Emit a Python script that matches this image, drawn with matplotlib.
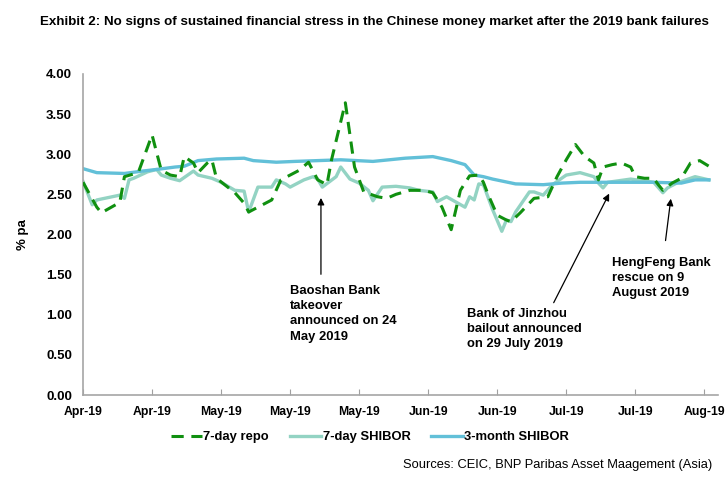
import matplotlib
matplotlib.use("Agg")
import matplotlib.pyplot as plt
import numpy as np
import pandas as pd

plt.rcParams['font.family'] = ['Liberation Sans Narrow', 'Liberation Sans', 'DejaVu Sans']

start = pd.Timestamp('2019-04-01')

# day offsets from 1 Apr 2019 and values (% pa)
repo_days = [0, 3, 4, 8, 9, 12, 15, 17, 19, 21, 22, 24, 25, 27, 28, 29, 33, 35, 36, 38, 41, 43,
             47, 49, 51, 53, 54, 57, 59, 61, 64, 66, 68, 71, 74, 76, 78, 80, 82, 84, 86, 87,
             88, 90, 92, 93, 95, 98, 101, 103, 105, 107, 109, 111, 112, 113, 115, 117, 119,
             120, 122, 124, 125, 126, 128, 130, 132, 134, 136]
repo_vals = [2.65, 2.34, 2.27, 2.40, 2.72, 2.77, 3.24, 2.80, 2.74, 2.72, 2.97, 2.89, 2.77, 2.89,
             2.93, 2.70, 2.52, 2.39, 2.28, 2.34, 2.43, 2.68, 2.80, 2.90, 2.68, 2.62, 2.93, 3.64,
             2.84, 2.53, 2.47, 2.45, 2.50, 2.55, 2.55, 2.52, 2.34, 2.06, 2.55, 2.73, 2.74, 2.65,
             2.50, 2.24, 2.18, 2.16, 2.27, 2.45, 2.47, 2.72, 2.93, 3.12, 2.97, 2.89, 2.68, 2.84,
             2.87, 2.89, 2.84, 2.72, 2.70, 2.70, 2.62, 2.55, 2.64, 2.70, 2.89, 2.92, 2.85]

shibor7_days = [0, 2, 3, 8, 9, 10, 11, 14, 16, 17, 19, 21, 24, 25, 28, 30, 33, 35, 36, 38, 41,
                42, 44, 45, 48, 50, 51, 52, 55, 56, 58, 60, 62, 63, 65, 68, 71, 73, 76, 77, 79,
                83, 84, 85, 86, 87, 89, 91, 92, 93, 94, 97, 98, 100, 102, 105, 108, 111, 112,
                113, 114, 119, 124, 126, 127, 129, 133, 136]
shibor7_vals = [2.66, 2.37, 2.43, 2.49, 2.45, 2.68, 2.70, 2.78, 2.81, 2.74, 2.70, 2.67, 2.79,
                2.74, 2.70, 2.65, 2.55, 2.54, 2.28, 2.59, 2.59, 2.68, 2.63, 2.59, 2.68, 2.72,
                2.69, 2.59, 2.72, 2.84, 2.69, 2.64, 2.55, 2.42, 2.59, 2.60, 2.58, 2.55, 2.53,
                2.41, 2.47, 2.34, 2.47, 2.43, 2.63, 2.62, 2.31, 2.04, 2.18, 2.16, 2.28, 2.53,
                2.53, 2.49, 2.62, 2.74, 2.77, 2.72, 2.64, 2.58, 2.65, 2.69, 2.65, 2.52, 2.58,
                2.64, 2.72, 2.68]

shibor3m_days = [0, 3, 9, 13, 16, 20, 22, 25, 29, 35, 37, 42, 46, 56, 63, 70, 76, 80, 83, 85,
                 87, 89, 94, 100, 104, 108, 119, 124, 130, 133, 136]
shibor3m_vals = [2.82, 2.77, 2.76, 2.79, 2.81, 2.84, 2.85, 2.92, 2.94, 2.95, 2.92, 2.90, 2.91,
                 2.93, 2.91, 2.95, 2.97, 2.92, 2.87, 2.74, 2.72, 2.69, 2.63, 2.62, 2.64, 2.65,
                 2.65, 2.65, 2.64, 2.68, 2.68]

tick_days = [0, 15, 30, 45, 60, 75, 90, 105, 120, 135]
y_ticks = [0.0, 0.5, 1.0, 1.5, 2.0, 2.5, 3.0, 3.5, 4.0]


def to_dates(days):
    return [start + pd.Timedelta(days=d) for d in days]


fig = plt.figure(figsize=(7.25, 4.86), dpi=100)
ax = fig.add_axes([0.1145, 0.187, 0.876, 0.661])

ax.plot(to_dates(repo_days), repo_vals, color='#109010', lw=2.2, ls=(0, (4, 2.5)),
        label='7-day repo', zorder=3)
ax.plot(to_dates(shibor7_days), shibor7_vals, color='#93d3c3', lw=2.4,
        label='7-day SHIBOR', zorder=2)
ax.plot(to_dates(shibor3m_days), shibor3m_vals, color='#62c0d8', lw=2.4,
        label='3-month SHIBOR', zorder=2)

fs = 9.4
ax.set_xlim(start, start + pd.Timedelta(days=138))
ax.set_ylim(0, 4)
ax.set_yticks(y_ticks)
ax.set_yticklabels([f'{v:.2f}' for v in y_ticks], fontsize=9.5, fontweight='bold')
ticks = to_dates(tick_days)
ax.set_xticks(ticks)
ax.set_xticklabels([t.strftime('%b-%y') for t in ticks], fontsize=8.8, fontweight='bold')
ax.tick_params(axis='x', direction='in', length=4, color='#a0a0a0', pad=8)
ax.tick_params(axis='y', length=0, pad=8)
for s in ['top', 'right']:
    ax.spines[s].set_visible(False)
for s in ['left', 'bottom']:
    ax.spines[s].set_color('#a6a6a6')
    ax.spines[s].set_linewidth(1.2)
ax.set_ylabel('% pa', fontsize=9.5, fontweight='bold', labelpad=12)

fig.text(0.055, 0.955, 'Exhibit 2: No signs of sustained financial stress in the Chinese money '
         'market after the 2019 bank failures', fontsize=9.6, fontweight='bold', va='center')

arrow = dict(arrowstyle='-|>', color='black', lw=0.9, mutation_scale=10)
d = lambda n: start + pd.Timedelta(days=n)
ax.annotate('', xy=(d(51.7), 2.49), xytext=(d(51.7), 1.47), arrowprops=arrow)
ax.text(d(45), 1.37, 'Baoshan Bank\ntakeover\nannounced on 24\nMay 2019', fontsize=fs,
        fontweight='bold', va='top', linespacing=1.35)
ax.annotate('', xy=(d(114.6), 2.54), xytext=(d(102), 1.12), arrowprops=arrow)
ax.text(d(83.5), 1.09, 'Bank of Jinzhou\nbailout announced\non 29 July 2019', fontsize=fs,
        fontweight='bold', va='top', linespacing=1.35)
ax.annotate('', xy=(d(127.8), 2.48), xytext=(d(126.5), 1.89), arrowprops=arrow)
ax.text(d(115), 1.72, 'HengFeng Bank\nrescue on 9\nAugust 2019', fontsize=fs,
        fontweight='bold', va='top', linespacing=1.35)

fig.legend(loc='center', bbox_to_anchor=(0.51, 0.1), ncol=3, frameon=False,
           prop={'size': fs, 'weight': 'bold'}, handlelength=2.4, handletextpad=0.1,
           columnspacing=1.6)
fig.text(0.983, 0.043, 'Sources: CEIC, BNP Paribas Asset Maagement (Asia)', fontsize=9.3,
         ha='right', va='center')

fig.savefig('out.png', dpi=100)
